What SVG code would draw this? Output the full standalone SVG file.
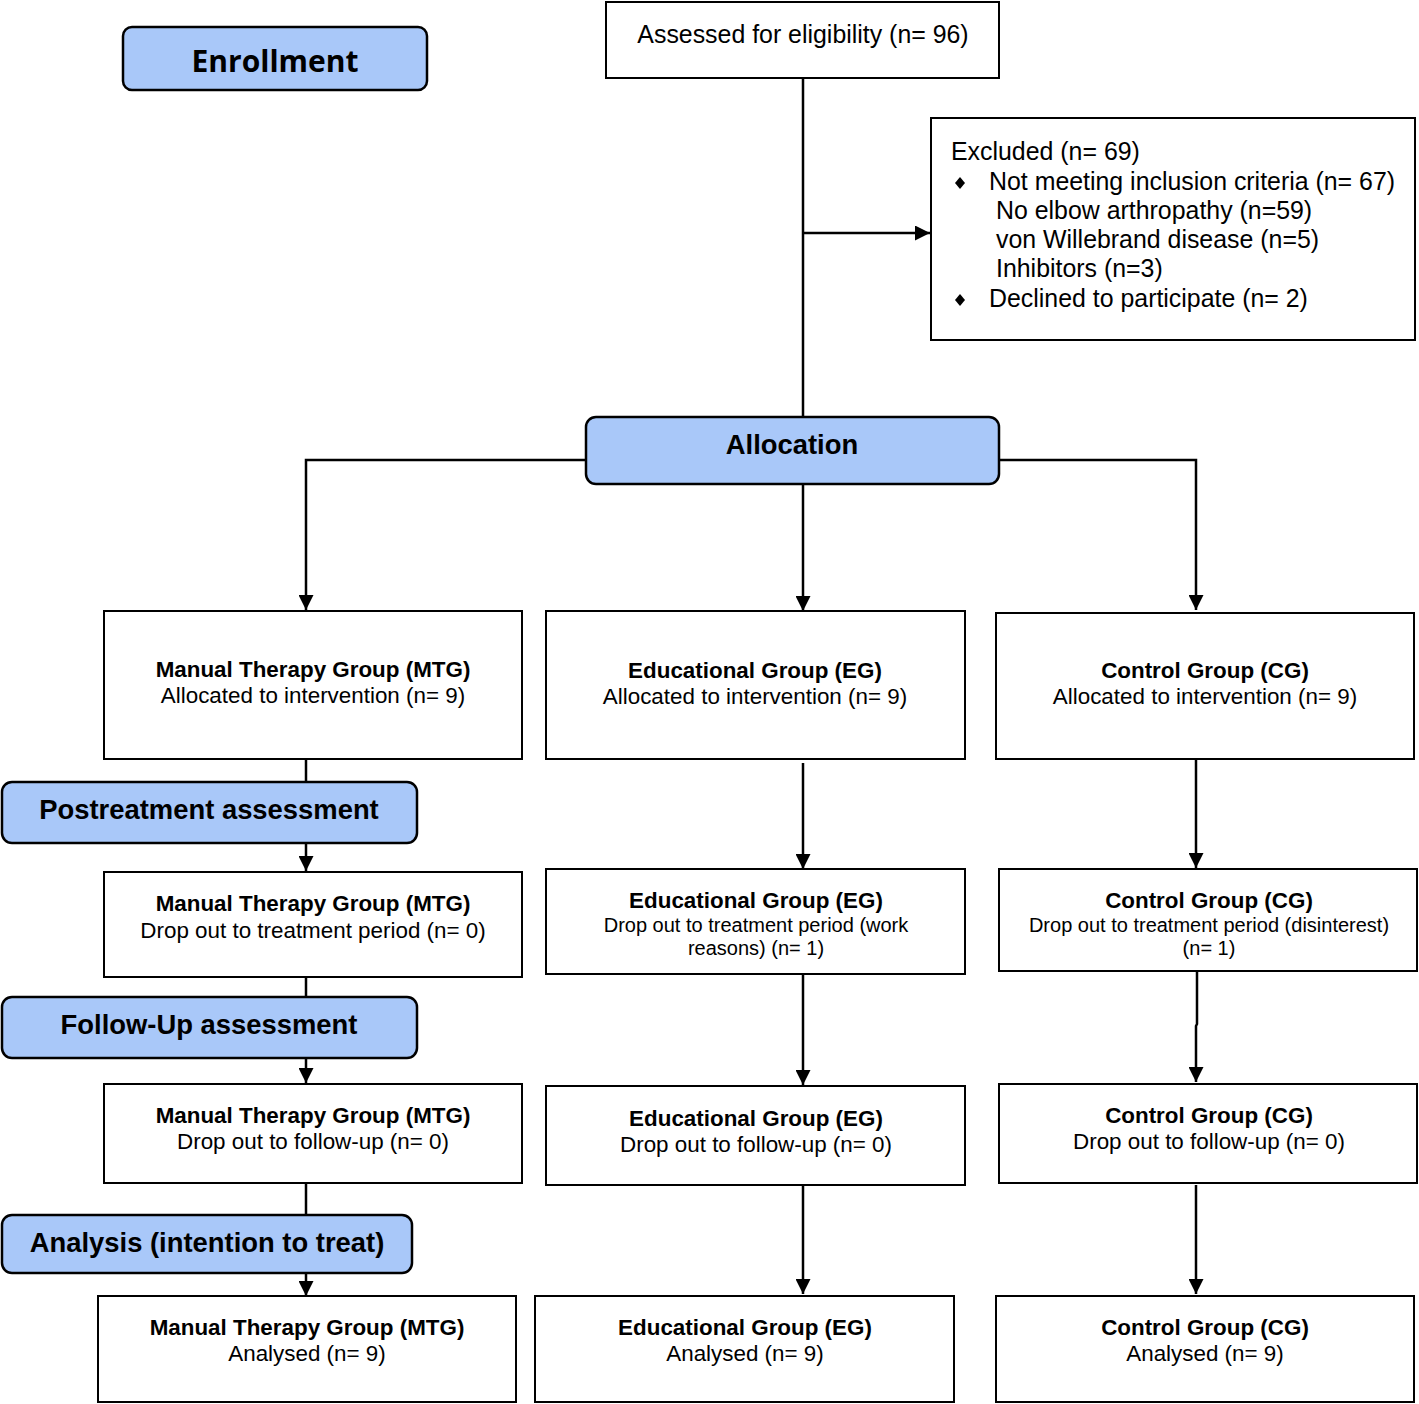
<svg xmlns="http://www.w3.org/2000/svg" width="1419" height="1404" viewBox="0 0 1419 1404">
<style>
.box{fill:#fff;stroke:#000;stroke-width:2}
.hdr{fill:#a9c8f9;stroke:#000;stroke-width:2.5}
.t{font-family:"Liberation Sans",Arial,sans-serif;font-size:22.4px;fill:#000}
.b{font-weight:bold}
.h{font-family:"Liberation Sans",Arial,sans-serif;font-size:27.4px;font-weight:bold;text-anchor:middle}
.c{text-anchor:middle}
.s{font-size:20px}
.x{font-size:24.9px}
.ln{fill:none;stroke:#000;stroke-width:2.5}
</style>
<defs>
<marker id="ah" viewBox="0 0 10 10" refX="10" refY="5" markerWidth="6" markerHeight="6" markerUnits="strokeWidth" orient="auto">
<path d="M0,0L10,5L0,10z" fill="#000"/>
</marker>
</defs>
<rect width="1419" height="1404" fill="#fff"/>
<g id="connectors">
<path class="ln" d="M803,78V417"/>
<path class="ln" d="M803,233H930" marker-end="url(#ah)"/>
<path class="ln" d="M586,460H306V610" marker-end="url(#ah)"/>
<path class="ln" d="M999,460H1196V610" marker-end="url(#ah)"/>
<path class="ln" d="M803,484V611" marker-end="url(#ah)"/>
<path class="ln" d="M306,759V782"/>
<path class="ln" d="M306,843V871" marker-end="url(#ah)"/>
<path class="ln" d="M803,763V869" marker-end="url(#ah)"/>
<path class="ln" d="M1196,759V868" marker-end="url(#ah)"/>
<path class="ln" d="M306,977V997"/>
<path class="ln" d="M306,1058V1083" marker-end="url(#ah)"/>
<path class="ln" d="M803,974V1085" marker-end="url(#ah)"/>
<path class="ln" d="M1197,971V1024L1196,1026V1082" marker-end="url(#ah)"/>
<path class="ln" d="M306,1183V1215"/>
<path class="ln" d="M306,1273V1296" marker-end="url(#ah)"/>
<path class="ln" d="M803,1185V1294" marker-end="url(#ah)"/>
<path class="ln" d="M1196,1185V1294" marker-end="url(#ah)"/>
</g>
<g id="enrollment"><rect class="hdr" x="123" y="27" width="304" height="63" rx="9"/><text x="275" y="72" style="font-family:'Open Sans','Liberation Sans',sans-serif;font-size:30px;font-weight:bold;text-anchor:middle">Enrollment</text></g>
<g id="assessed"><rect class="box" x="606" y="2" width="393" height="76"/><text class="t c x" x="803" y="43">Assessed for eligibility (n= 96)</text></g>
<g id="excluded"><rect class="box" x="931" y="118" width="484" height="222"/>
<text class="t x"><tspan x="951" y="160">Excluded (n= 69)</tspan><tspan x="989" y="190">Not meeting inclusion criteria (n= 67)</tspan><tspan x="996" y="219">No elbow arthropathy (n=59)</tspan><tspan x="996" y="248">von Willebrand disease (n=5)</tspan><tspan x="996" y="277">Inhibitors (n=3)</tspan><tspan x="989" y="307">Declined to participate (n= 2)</tspan></text>
<path d="M960,177L965,183L960,189L955,183z" fill="#000"/><path d="M960,294L965,300L960,306L955,300z" fill="#000"/></g>
<g id="allocation"><rect class="hdr" x="586" y="417" width="413" height="67" rx="10"/><text class="h" x="792" y="454">Allocation</text></g>
<g id="mtg1"><rect class="box" x="104" y="611" width="418" height="148"/><text class="t c" x="313" y="677"><tspan class="b">Manual Therapy Group (MTG)</tspan><tspan x="313" y="703">Allocated to intervention (n= 9)</tspan></text></g>
<g id="eg1"><rect class="box" x="546" y="611" width="419" height="148"/><text class="t c" x="755" y="678"><tspan class="b">Educational Group (EG)</tspan><tspan x="755" y="704">Allocated to intervention (n= 9)</tspan></text></g>
<g id="cg1"><rect class="box" x="996" y="613" width="418" height="146"/><text class="t c" x="1205" y="678"><tspan class="b">Control Group (CG)</tspan><tspan x="1205" y="704">Allocated to intervention (n= 9)</tspan></text></g>
<g id="post"><rect class="hdr" x="2" y="782" width="415" height="61" rx="10"/><text class="h" x="209" y="819">Postreatment assessment</text></g>
<g id="mtg2"><rect class="box" x="104" y="872" width="418" height="105"/><text class="t c" x="313" y="911"><tspan class="b">Manual Therapy Group (MTG)</tspan><tspan x="313" y="938">Drop out to treatment period (n= 0)</tspan></text></g>
<g id="eg2"><rect class="box" x="546" y="869" width="419" height="105"/><text class="t c" x="756" y="908"><tspan class="b">Educational Group (EG)</tspan><tspan class="s" x="756" y="932">Drop out to treatment period (work</tspan><tspan class="s" x="756" y="955">reasons) (n= 1)</tspan></text></g>
<g id="cg2"><rect class="box" x="999" y="869" width="418" height="102"/><text class="t c" x="1209" y="908"><tspan class="b">Control Group (CG)</tspan><tspan class="s" x="1209" y="932">Drop out to treatment period (disinterest)</tspan><tspan class="s" x="1209" y="955">(n= 1)</tspan></text></g>
<g id="follow"><rect class="hdr" x="2" y="997" width="415" height="61" rx="10"/><text class="h" x="209" y="1034">Follow-Up assessment</text></g>
<g id="mtg3"><rect class="box" x="104" y="1084" width="418" height="99"/><text class="t c" x="313" y="1123"><tspan class="b">Manual Therapy Group (MTG)</tspan><tspan x="313" y="1149">Drop out to follow-up (n= 0)</tspan></text></g>
<g id="eg3"><rect class="box" x="546" y="1086" width="419" height="99"/><text class="t c" x="756" y="1126"><tspan class="b">Educational Group (EG)</tspan><tspan x="756" y="1152">Drop out to follow-up (n= 0)</tspan></text></g>
<g id="cg3"><rect class="box" x="999" y="1084" width="418" height="99"/><text class="t c" x="1209" y="1123"><tspan class="b">Control Group (CG)</tspan><tspan x="1209" y="1149">Drop out to follow-up (n= 0)</tspan></text></g>
<g id="analysis"><rect class="hdr" x="2" y="1215" width="410" height="58" rx="10"/><text class="h" x="207" y="1252">Analysis (intention to treat)</text></g>
<g id="mtg4"><rect class="box" x="98" y="1296" width="418" height="106"/><text class="t c" x="307" y="1335"><tspan class="b">Manual Therapy Group (MTG)</tspan><tspan x="307" y="1361">Analysed (n= 9)</tspan></text></g>
<g id="eg4"><rect class="box" x="535" y="1296" width="419" height="106"/><text class="t c" x="745" y="1335"><tspan class="b">Educational Group (EG)</tspan><tspan x="745" y="1361">Analysed (n= 9)</tspan></text></g>
<g id="cg4"><rect class="box" x="996" y="1296" width="418" height="106"/><text class="t c" x="1205" y="1335"><tspan class="b">Control Group (CG)</tspan><tspan x="1205" y="1361">Analysed (n= 9)</tspan></text></g>
</svg>
